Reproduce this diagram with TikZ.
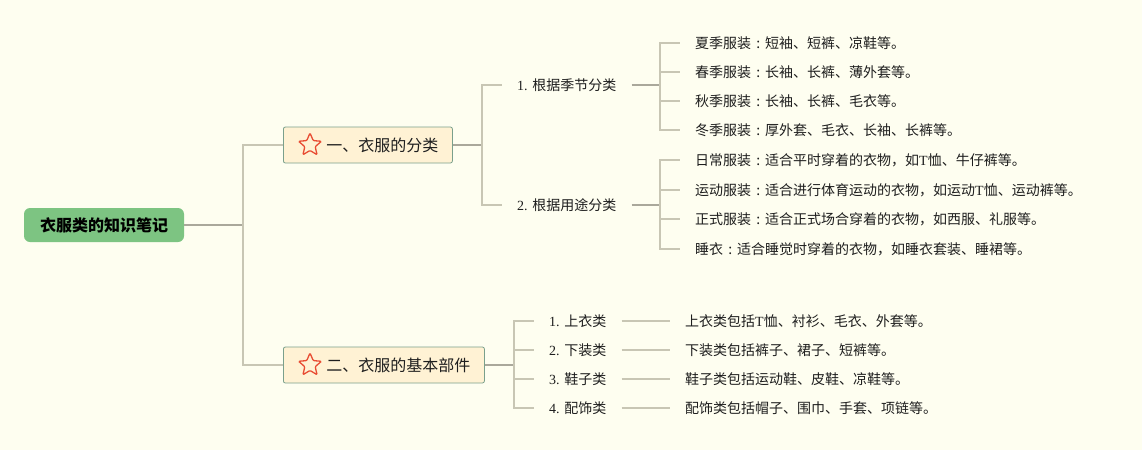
\documentclass[tikz,border=0pt]{standalone}
\usepackage{fontspec}
\setmainfont{Liberation Serif}
\newfontfamily\cjk{Noto Sans CJK SC}
\usetikzlibrary{shapes.geometric}
\definecolor{bgc}{RGB}{254,254,240}
\definecolor{rootc}{RGB}{125,196,130}
\definecolor{brfill}{RGB}{255,242,212}
\definecolor{brdraw}{RGB}{122,160,140}
\definecolor{linec}{RGB}{200,198,180}
\definecolor{linedk}{RGB}{170,168,155}
\definecolor{starc}{RGB}{232,76,50}
\definecolor{txtc}{RGB}{30,30,30}
\newcommand\lat[1]{{\rmfamily#1}}
\newcommand\ccol{\makebox[1em][c]{:}}
\begin{document}
\begin{tikzpicture}[x=1pt,y=1pt,
 rootbox/.style={rectangle, rounded corners=6pt, fill=rootc, minimum height=34pt, inner xsep=16pt, text=black, font=\cjk\bfseries\fontsize{16}{18}\selectfont},
 branchbox/.style={rectangle, rounded corners=2pt, fill=brfill, draw=brdraw, line width=0.8pt, minimum height=36pt, inner xsep=14pt, anchor=west, text=txtc, font=\cjk\fontsize{16}{18}\selectfont},
 starmark/.style={star, star points=5, star point ratio=2.2, draw=starc, line width=1.3pt, minimum size=24pt, inner sep=0pt, rounded corners=1pt},
 txt/.style={anchor=west, inner xsep=15pt, inner ysep=2pt, text=txtc, font=\cjk\fontsize{14}{16}\selectfont},
 conn/.style={draw=linec, line width=1.3pt},
 conndk/.style={draw=linedk, line width=1.3pt},
]
\fill[bgc] (0,0) rectangle (1142,-450);
\useasboundingbox (0,0) rectangle (1142,-450);

% root and branches
\node[rootbox] (root) at (104,-225) {衣服类的知识笔记};
\node[branchbox] (b1) at (283,-145) {\hspace*{29pt}一、衣服的分类};
\node[branchbox] (b2) at (283,-365) {\hspace*{29pt}二、衣服的基本部件};
\node[starmark] (s1) at ([xshift=27pt]b1.west) {};
\node[starmark] (s2) at ([xshift=27pt]b2.west) {};

% level 2 labels
\node[txt] (l1) at (502,-85) {\lat{1. }根据季节分类};
\node[txt] (l2) at (502,-205) {\lat{2. }根据用途分类};
\node[txt] (m1) at (534,-321) {\lat{1. }上衣类};
\node[txt] (m2) at (534,-350) {\lat{2. }下装类};
\node[txt] (m3) at (534,-379) {\lat{3. }鞋子类};
\node[txt] (m4) at (534,-408) {\lat{4. }配饰类};

% leaves
\node[txt] (a1) at (680,-43) {夏季服装\ccol 短袖、短裤、凉鞋等。};
\node[txt] (a2) at (680,-72) {春季服装\ccol 长袖、长裤、薄外套等。};
\node[txt] (a3) at (680,-101) {秋季服装\ccol 长袖、长裤、毛衣等。};
\node[txt] (a4) at (680,-130) {冬季服装\ccol 厚外套、毛衣、长袖、长裤等。};
\node[txt] (c1) at (680,-160) {日常服装\ccol 适合平时穿着的衣物，如\lat{T}恤、牛仔裤等。};
\node[txt] (c2) at (680,-190) {运动服装\ccol 适合进行体育运动的衣物，如运动\lat{T}恤、运动裤等。};
\node[txt] (c3) at (680,-219) {正式服装\ccol 适合正式场合穿着的衣物，如西服、礼服等。};
\node[txt] (c4) at (680,-249) {睡衣\ccol 适合睡觉时穿着的衣物，如睡衣套装、睡裙等。};
\node[txt] (d1) at (670,-321) {上衣类包括\lat{T}恤、衬衫、毛衣、外套等。};
\node[txt] (d2) at (670,-350) {下装类包括裤子、裙子、短裤等。};
\node[txt] (d3) at (670,-379) {鞋子类包括运动鞋、皮鞋、凉鞋等。};
\node[txt] (d4) at (670,-408) {配饰类包括帽子、围巾、手套、项链等。};

% junctions
\coordinate (j0) at (243,-225);
\coordinate (j1) at (482,-145);
\coordinate (j2) at (514,-365);
\coordinate (ja) at (660,-85);
\coordinate (jc) at (660,-205);

% connectors
\draw[conndk] (root.east) -- (j0);
\draw[conn] (j0) |- (b1.west);
\draw[conn] (j0) |- (b2.west);

\draw[conndk] (b1.east) -- (j1);
\draw[conn] (j1) |- (l1.west);
\draw[conn] (j1) |- (l2.west);

\draw[conndk] (l1.east) -- (ja);
\foreach \n in {a1,a2,a3,a4} \draw[conn] (ja) |- (\n.west);
\draw[conndk] (l2.east) -- (jc);
\foreach \n in {c1,c2,c3,c4} \draw[conn] (jc) |- (\n.west);

\draw[conndk] (b2.east) -- (j2);
\foreach \n in {m1,m2,m3,m4} \draw[conn] (j2) |- (\n.west);
\draw[conn] (m1.east) -- (d1.west);
\draw[conn] (m2.east) -- (d2.west);
\draw[conn] (m3.east) -- (d3.west);
\draw[conn] (m4.east) -- (d4.west);
\end{tikzpicture}
\end{document}
